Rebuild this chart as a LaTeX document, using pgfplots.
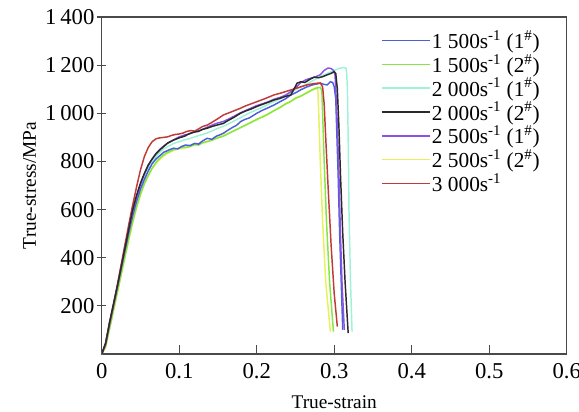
\documentclass[border=0pt]{standalone}
\usepackage{fontspec}
\setmainfont{Liberation Serif}
\usepackage{pgfplots}
\pgfplotsset{compat=1.18}
\definecolor{cBlue}{HTML}{4A5FD8}
\definecolor{cGreen}{HTML}{86E645}
\definecolor{cCyan}{HTML}{9FF2D6}
\definecolor{cBlack}{HTML}{2A2A2A}
\definecolor{cPurple}{HTML}{8A52E6}
\definecolor{cYellow}{HTML}{E6F25A}
\definecolor{cRed}{HTML}{C03A3A}
\definecolor{axgray}{HTML}{4A4A4A}
\begin{document}
\begin{tikzpicture}
\begin{axis}[
  scale only axis, width=348.75pt, height=252.75pt,
  xmin=0, xmax=0.6, ymin=0, ymax=1400,
  xtick={0,0.1,0.2,0.3,0.4,0.5,0.6},
  ytick={200,400,600,800,1000,1200,1400},
  xticklabels={0\hspace{15pt},0.1,0.2,0.3,0.4,0.5,0.6},
  /pgf/number format/assume math mode=true,
  /pgf/number format/1000 sep={\,},
  tick label style={font=\fontsize{17}{19}\selectfont},
  xticklabel style={yshift=-3.5pt},
  yticklabel style={xshift=1.5pt},
  label style={font=\fontsize{14.5}{16}\selectfont},
  xlabel={True-strain}, ylabel={True-stress/MPa},
  xlabel style={yshift=-6pt},
  ylabel style={yshift=0pt},
  axis line style={axgray, line width=1.1pt},
  tick style={axgray, line width=0.9pt},
  xtick pos=bottom, ytick pos=left,
  major tick length=7pt,
  xtick align=inside,
  ytick align=center, 
  legend style={draw=none, fill=none, at={(0.60,0.965)}, anchor=north west,
    inner sep=0pt, row sep=0.7pt, font=\fontsize{16}{17}\selectfont,
    nodes={inner sep=1pt}},
  legend cell align=left,
  legend image code/.code={\draw[#1, line width=1.2pt] (0pt,0pt) -- (36pt,0pt);},
  every axis plot/.append style={line width=1.1pt},
]
\coordinate (SW) at (rel axis cs:0,0);
\coordinate (NE) at (rel axis cs:1,1);
\addlegendimage{cBlue}
\addlegendentry{1~500s\textsuperscript{-1} (1\textsuperscript{\#})}
\addlegendimage{cGreen}
\addlegendentry{1~500s\textsuperscript{-1} (2\textsuperscript{\#})}
\addlegendimage{cCyan}
\addlegendentry{2~000s\textsuperscript{-1} (1\textsuperscript{\#})}
\addlegendimage{cBlack}
\addlegendentry{2~000s\textsuperscript{-1} (2\textsuperscript{\#})}
\addlegendimage{cPurple}
\addlegendentry{2~500s\textsuperscript{-1} (1\textsuperscript{\#})}
\addlegendimage{cYellow}
\addlegendentry{2~500s\textsuperscript{-1} (2\textsuperscript{\#})}
\addlegendimage{cRed}
\addlegendentry{3~000s\textsuperscript{-1}}

% 2000 s-1 (1#) cyan
\addplot[cCyan, forget plot] coordinates {
(0,0)(0.005,42)(0.01,125)(0.015,200)(0.02,275)(0.025,352)(0.03,430)(0.035,505)(0.04,575)(0.045,640)(0.05,692)(0.055,735)(0.06,770)(0.065,798)(0.07,820)(0.075,838)(0.08,852)(0.087,865)(0.093,875)(0.1,882)(0.107,890)(0.114,895)(0.12,902)(0.128,910)(0.136,918)(0.143,928)(0.15,938)(0.157,946)(0.165,958)(0.172,970)(0.179,982)(0.186,994)(0.193,1005)(0.2,1015)(0.208,1026)(0.215,1038)(0.222,1048)(0.23,1060)(0.237,1072)(0.244,1085)(0.25,1098)(0.257,1110)(0.265,1122)(0.272,1135)(0.28,1148)(0.287,1160)(0.294,1170)(0.3,1178)(0.306,1186)(0.311,1190)(0.315,1188)(0.316,1170)(0.317,1100)(0.318,900)(0.319,600)(0.321,300)(0.323,93)};
% 2500 s-1 (2#) yellow
\addplot[cYellow, forget plot] coordinates {
(0,0)(0.005,28)(0.01,100)(0.015,175)(0.02,250)(0.025,325)(0.03,400)(0.035,475)(0.04,545)(0.045,608)(0.05,660)(0.055,705)(0.06,740)(0.065,770)(0.071,795)(0.077,815)(0.083,830)(0.09,842)(0.095,848)(0.1,852)(0.106,855)(0.112,862)(0.118,866)(0.124,872)(0.13,875)(0.136,884)(0.143,890)(0.15,900)(0.157,908)(0.165,920)(0.172,928)(0.179,942)(0.186,950)(0.193,965)(0.2,972)(0.208,988)(0.215,995)(0.222,1012)(0.23,1022)(0.237,1040)(0.244,1048)(0.25,1065)(0.257,1070)(0.265,1088)(0.27,1095)(0.275,1105)(0.278,1108)(0.279,1090)(0.280,1000)(0.282,800)(0.285,550)(0.289,300)(0.295,93)};
% 1500 s-1 (2#) green
\addplot[cGreen, forget plot] coordinates {
(0,0)(0.005,30)(0.01,105)(0.015,180)(0.02,255)(0.025,330)(0.03,405)(0.035,480)(0.04,550)(0.045,612)(0.05,665)(0.055,708)(0.06,742)(0.065,772)(0.071,800)(0.077,820)(0.083,834)(0.09,845)(0.095,852)(0.1,855)(0.105,860)(0.11,858)(0.115,864)(0.12,870)(0.125,868)(0.13,878)(0.136,882)(0.142,888)(0.15,898)(0.157,905)(0.165,918)(0.172,930)(0.179,940)(0.186,952)(0.193,962)(0.2,975)(0.208,985)(0.215,998)(0.222,1010)(0.23,1025)(0.237,1038)(0.244,1050)(0.25,1062)(0.257,1072)(0.265,1085)(0.272,1098)(0.278,1105)(0.282,1108)(0.284,1095)(0.285,1000)(0.287,800)(0.290,550)(0.294,300)(0.299,93)};
% 1500 s-1 (1#) blue
\addplot[cBlue, forget plot] coordinates {
(0,0)(0.005,40)(0.01,120)(0.015,198)(0.02,275)(0.025,352)(0.03,430)(0.035,505)(0.04,575)(0.045,635)(0.05,685)(0.055,725)(0.06,760)(0.065,790)(0.07,810)(0.0754,825)(0.08,838)(0.087,848)(0.0927,855)(0.098,852)(0.103,862)(0.108,868)(0.114,866)(0.12,875)(0.125,872)(0.13,885)(0.136,896)(0.142,892)(0.148,905)(0.152,910)(0.157,917)(0.163,930)(0.168,940)(0.174,950)(0.179,965)(0.185,975)(0.19,980)(0.195,990)(0.2,1000)(0.207,1012)(0.214,1022)(0.222,1034)(0.23,1048)(0.237,1060)(0.244,1076)(0.25,1085)(0.257,1098)(0.265,1110)(0.272,1118)(0.282,1125)(0.287,1120)(0.291,1118)(0.295,1131)(0.298,1128)(0.300,1110)(0.302,1060)(0.303,950)(0.305,750)(0.307,500)(0.309,300)(0.311,100)};
% 2500 s-1 (1#) purple
\addplot[cPurple, forget plot] coordinates {
(0,0)(0.005,42)(0.01,125)(0.015,200)(0.02,278)(0.025,358)(0.03,438)(0.035,515)(0.04,592)(0.045,652)(0.05,705)(0.055,748)(0.06,783)(0.065,810)(0.07,832)(0.075,850)(0.08,864)(0.085,876)(0.093,890)(0.1,902)(0.107,910)(0.114,915)(0.12,924)(0.128,930)(0.136,942)(0.143,952)(0.15,960)(0.157,966)(0.165,978)(0.172,990)(0.179,1002)(0.186,1012)(0.193,1022)(0.2,1032)(0.208,1040)(0.215,1048)(0.222,1058)(0.23,1066)(0.237,1075)(0.244,1090)(0.25,1105)(0.257,1128)(0.264,1140)(0.27,1146)(0.276,1152)(0.282,1160)(0.287,1178)(0.292,1188)(0.296,1186)(0.299,1178)(0.301,1160)(0.302,1100)(0.304,950)(0.306,750)(0.308,500)(0.310,300)(0.313,100)};
% 3000 s-1 red
\addplot[cRed, forget plot] coordinates {
(0,0)(0.005,45)(0.01,130)(0.015,205)(0.02,285)(0.025,370)(0.03,455)(0.035,540)(0.04,620)(0.045,695)(0.05,765)(0.055,820)(0.06,858)(0.065,882)(0.07,894)(0.075,898)(0.08,900)(0.085,902)(0.09,908)(0.095,912)(0.1,914)(0.105,918)(0.11,925)(0.115,928)(0.12,926)(0.125,935)(0.13,945)(0.136,951)(0.14,958)(0.145,968)(0.15,978)(0.157,993)(0.165,1003)(0.172,1012)(0.179,1021)(0.185,1030)(0.19,1036)(0.2,1048)(0.21,1060)(0.222,1076)(0.23,1083)(0.244,1097)(0.255,1108)(0.265,1118)(0.275,1124)(0.282,1126)(0.285,1110)(0.287,1040)(0.289,900)(0.292,700)(0.296,450)(0.300,250)(0.304,114)};
% 2000 s-1 (2#) black
\addplot[cBlack, forget plot] coordinates {
(0,0)(0.005,45)(0.01,130)(0.015,205)(0.02,280)(0.025,360)(0.03,440)(0.035,520)(0.04,600)(0.045,660)(0.05,710)(0.055,750)(0.06,785)(0.065,810)(0.07,832)(0.075,848)(0.08,862)(0.085,876)(0.093,889)(0.1,898)(0.107,905)(0.114,917)(0.12,922)(0.125,925)(0.13,933)(0.136,938)(0.143,946)(0.15,952)(0.157,958)(0.163,970)(0.17,982)(0.179,1000)(0.186,1010)(0.193,1018)(0.2,1028)(0.208,1038)(0.215,1046)(0.222,1055)(0.23,1062)(0.237,1070)(0.244,1076)(0.248,1100)(0.252,1125)(0.257,1131)(0.262,1128)(0.268,1140)(0.274,1150)(0.28,1148)(0.285,1152)(0.291,1160)(0.296,1166)(0.3,1173)(0.302,1165)(0.304,1100)(0.306,950)(0.308,750)(0.311,500)(0.314,300)(0.318,87)};
\end{axis}
\pgfresetboundingbox
\path[use as bounding box] ([xshift=-76.3pt,yshift=-42.75pt]SW) rectangle ([xshift=9.2pt,yshift=12.75pt]NE);
\end{tikzpicture}
\end{document}
